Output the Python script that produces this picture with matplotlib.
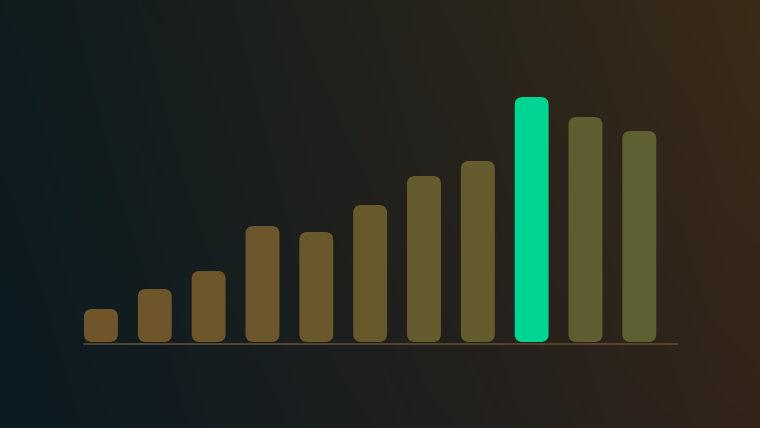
import numpy as np
import matplotlib
matplotlib.use("Agg")
import matplotlib.pyplot as plt
from matplotlib.patches import FancyBboxPatch
from matplotlib.colors import to_rgb

# bar values
categories = list(range(11))
values = [33, 53, 71, 116, 110, 137, 166, 181, 245, 225, 211]
highlight = 8

bar_colors = ['#70542a', '#6f552a', '#6c562a', '#6b572b', '#69582c', '#68592d',
              '#665b2e', '#645c2f', '#00d492', '#605e30', '#5e6031']

W, H = 760, 428
fig = plt.figure(figsize=(W / 100, H / 100), dpi=100)

# background gradient
bg = fig.add_axes([0, 0, 1, 1])
tl, tr = np.array(to_rgb('#101c1f')), np.array(to_rgb('#3b2b18'))
bl, br = np.array(to_rgb('#0b1b22')), np.array(to_rgb('#33241a'))
xs = np.linspace(0, 1, 200) ** 1.15
ys = np.linspace(0, 1, 120)[:, None, None]
top = tl + (tr - tl) * xs[:, None]
bot = bl + (br - bl) * xs[:, None]
img = top[None, :, :] * (1 - ys) + bot[None, :, :] * ys
bg.imshow(img, aspect='auto', extent=[0, 1, 0, 1], interpolation='bicubic')
bg.axis('off')

# chart axes
ax = fig.add_axes([84 / W, 84 / H, 593 / W, 254 / H])
ax.patch.set_alpha(0)
bw = 0.63
bars = ax.bar(categories, values, width=bw, color=bar_colors)
px_per_x = 593 / (10.70 + 0.315)
r = 8 / px_per_x
for b, c in zip(bars, bar_colors):
    x0, y0 = b.get_xy()
    fb = FancyBboxPatch((x0, y0), b.get_width(), b.get_height(),
                        boxstyle=f"round,pad=0,rounding_size={r}",
                        mutation_aspect=px_per_x, facecolor=c, edgecolor='none')
    b.remove()
    ax.add_patch(fb)

ax.set_xlim(-bw / 2, 10.70)
ax.set_ylim(-2, 252)
ax.axhline(-2, color='#5e4c32', lw=1.2, clip_on=False)
for s in ax.spines.values():
    s.set_visible(False)
ax.set_xticks([])
ax.set_yticks([])

fig.savefig('out.png', dpi=100)
